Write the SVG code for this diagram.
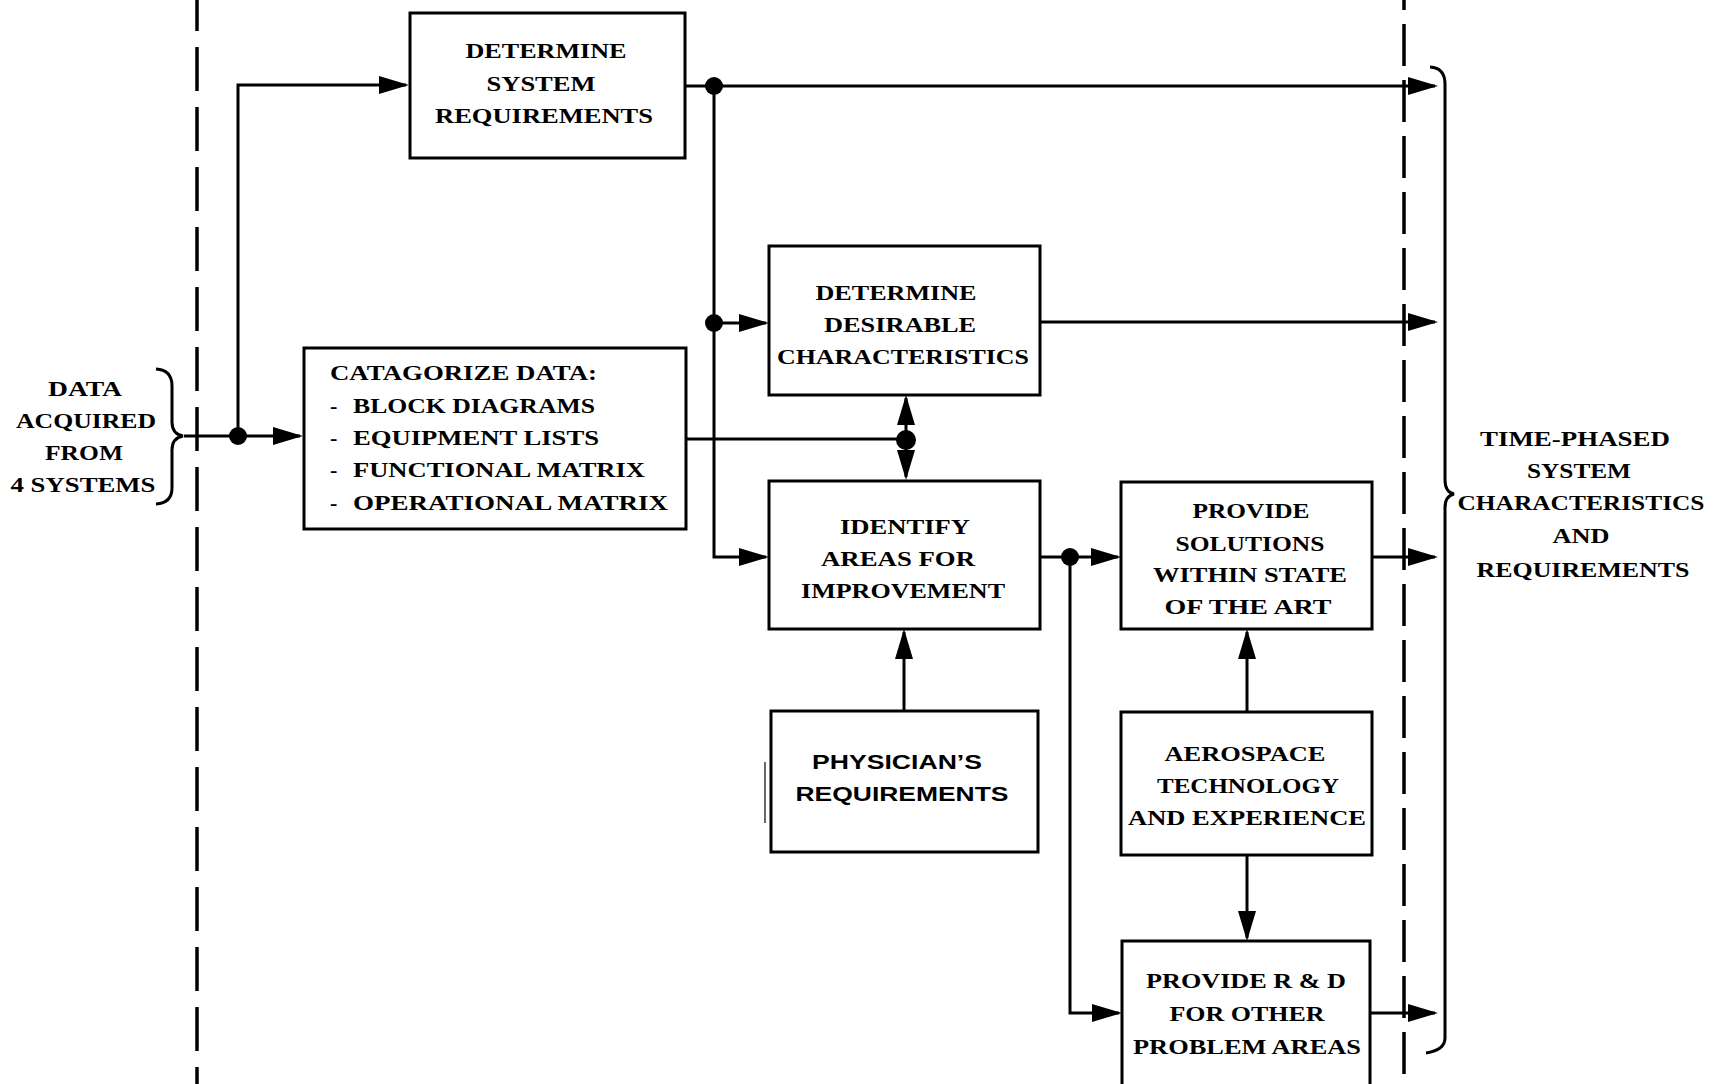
<svg xmlns="http://www.w3.org/2000/svg" width="1714" height="1084" viewBox="0 0 1714 1084">
<style>
.box{fill:#fff;stroke:#000;stroke-width:3}
.c{fill:none;stroke:#000;stroke-width:3}
.dash{fill:none;stroke:#000;stroke-width:3.5}
.dot{fill:#000}
.t{font-family:"Liberation Serif","Times New Roman",serif;font-weight:bold;font-size:22px;fill:#000;text-anchor:middle}
.tl{font-family:"Liberation Serif","Times New Roman",serif;font-weight:bold;font-size:22px;fill:#000}
.s{font-family:"Liberation Sans",Arial,sans-serif;font-weight:bold;font-size:20px;fill:#000;text-anchor:middle}
</style>
<defs>
<marker id="ah" markerUnits="userSpaceOnUse" markerWidth="30" markerHeight="18" viewBox="0 0 30 18" refX="27" refY="9" orient="auto"><path d="M0,0 L30,9 L0,18 Z" fill="#000"/></marker>
</defs>
<rect width="1714" height="1084" fill="#fff"/>

<g id="boundaries">
<path class="dash" d="M197,0 V1084" stroke-dasharray="44 16" stroke-dashoffset="13"/>
<path class="dash" d="M1404,0 V1084" stroke-dasharray="42 14" stroke-dashoffset="32"/>
<path class="c" d="M156,369 Q172,370 172,386 V422 Q172,434 183,436 Q172,438 172,450 V488 Q172,503 156,504"/>
<path class="c" d="M1430,67 Q1445,68 1445,84 V480 Q1445,492 1454,494 Q1445,496 1445,508 V1038 Q1445,1050 1426,1053"/>
<line x1="765" y1="762" x2="765" y2="823" stroke="#000" stroke-width="1.2"/>
</g>

<g id="connectors">
<path class="c" d="M184,436 H300" marker-end="url(#ah)"/>
<path class="c" d="M238,436 V85 H406" marker-end="url(#ah)"/>
<path class="c" d="M685,86 H1435" marker-end="url(#ah)"/>
<path class="c" d="M714,86 V557 H766" marker-end="url(#ah)"/>
<path class="c" d="M714,323 H766" marker-end="url(#ah)"/>
<path class="c" d="M1040,322 H1435" marker-end="url(#ah)"/>
<path class="c" d="M686,439 H906"/>
<path class="c" d="M906,440 V398" marker-end="url(#ah)"/>
<path class="c" d="M906,440 V477" marker-end="url(#ah)"/>
<path class="c" d="M1040,557 H1118" marker-end="url(#ah)"/>
<path class="c" d="M1070,557 V1013 H1119" marker-end="url(#ah)"/>
<path class="c" d="M1372,557 H1435" marker-end="url(#ah)"/>
<path class="c" d="M1247,712 V632" marker-end="url(#ah)"/>
<path class="c" d="M1247,855 V938" marker-end="url(#ah)"/>
<path class="c" d="M1370,1013 H1435" marker-end="url(#ah)"/>
<path class="c" d="M904,710 V632" marker-end="url(#ah)"/>
<circle class="dot" cx="238" cy="436" r="9"/>
<circle class="dot" cx="714" cy="86" r="9"/>
<circle class="dot" cx="714" cy="323" r="9"/>
<circle class="dot" cx="906" cy="440" r="10"/>
<circle class="dot" cx="1070" cy="557" r="9"/>
</g>

<g id="input">
<text class="t" font-size="21" x="85" y="396" textLength="74" lengthAdjust="spacingAndGlyphs">DATA</text>
<text class="t" font-size="21" x="86" y="428" textLength="140" lengthAdjust="spacingAndGlyphs">ACQUIRED</text>
<text class="t" font-size="21" x="84" y="460" textLength="78" lengthAdjust="spacingAndGlyphs">FROM</text>
<text class="t" font-size="21" x="83" y="492" textLength="145" lengthAdjust="spacingAndGlyphs">4 SYSTEMS</text>
</g>

<g id="sysreq">
<rect class="box" x="410" y="13" width="275" height="145"/>
<text class="t" x="546" y="58" textLength="161" lengthAdjust="spacingAndGlyphs">DETERMINE</text>
<text class="t" x="541" y="91" textLength="109" lengthAdjust="spacingAndGlyphs">SYSTEM</text>
<text class="t" x="544" y="123" textLength="218" lengthAdjust="spacingAndGlyphs">REQUIREMENTS</text>
</g>

<g id="categorize">
<rect class="box" x="304" y="348" width="382" height="181"/>
<text class="tl" x="330" y="380" textLength="267" lengthAdjust="spacingAndGlyphs">CATAGORIZE DATA:</text>
<text class="tl" y="413"><tspan x="330">-</tspan><tspan x="353" textLength="242" lengthAdjust="spacingAndGlyphs">BLOCK DIAGRAMS</tspan></text>
<text class="tl" y="445"><tspan x="330">-</tspan><tspan x="353" textLength="246" lengthAdjust="spacingAndGlyphs">EQUIPMENT LISTS</tspan></text>
<text class="tl" y="477"><tspan x="330">-</tspan><tspan x="353" textLength="292" lengthAdjust="spacingAndGlyphs">FUNCTIONAL MATRIX</tspan></text>
<text class="tl" y="510"><tspan x="330">-</tspan><tspan x="353" textLength="315" lengthAdjust="spacingAndGlyphs">OPERATIONAL MATRIX</tspan></text>
</g>

<g id="desirable">
<rect class="box" x="769" y="246" width="271" height="149"/>
<text class="t" x="896" y="300" textLength="161" lengthAdjust="spacingAndGlyphs">DETERMINE</text>
<text class="t" x="900" y="332" textLength="152" lengthAdjust="spacingAndGlyphs">DESIRABLE</text>
<text class="t" x="903" y="364" textLength="252" lengthAdjust="spacingAndGlyphs">CHARACTERISTICS</text>
</g>

<g id="identify">
<rect class="box" x="769" y="481" width="271" height="148"/>
<text class="t" x="905" y="534" textLength="130" lengthAdjust="spacingAndGlyphs">IDENTIFY</text>
<text class="t" x="898" y="566" textLength="154" lengthAdjust="spacingAndGlyphs">AREAS FOR</text>
<text class="t" x="903" y="598" textLength="204" lengthAdjust="spacingAndGlyphs">IMPROVEMENT</text>
</g>

<g id="physician">
<rect class="box" x="771" y="711" width="267" height="141"/>
<text class="s" x="897" y="769" textLength="170" lengthAdjust="spacingAndGlyphs">PHYSICIAN’S</text>
<text class="s" x="902" y="801" textLength="213" lengthAdjust="spacingAndGlyphs">REQUIREMENTS</text>
</g>

<g id="solutions">
<rect class="box" x="1121" y="482" width="251" height="147"/>
<text class="t" x="1251" y="518" textLength="117" lengthAdjust="spacingAndGlyphs">PROVIDE</text>
<text class="t" x="1250" y="551" textLength="149" lengthAdjust="spacingAndGlyphs">SOLUTIONS</text>
<text class="t" x="1250" y="582" textLength="194" lengthAdjust="spacingAndGlyphs">WITHIN STATE</text>
<text class="t" x="1248" y="614" textLength="167" lengthAdjust="spacingAndGlyphs">OF THE ART</text>
</g>

<g id="aerospace">
<rect class="box" x="1121" y="712" width="251" height="143"/>
<text class="t" x="1245" y="761" textLength="161" lengthAdjust="spacingAndGlyphs">AEROSPACE</text>
<text class="t" x="1248" y="793" textLength="182" lengthAdjust="spacingAndGlyphs">TECHNOLOGY</text>
<text class="t" x="1247" y="825" textLength="238" lengthAdjust="spacingAndGlyphs">AND EXPERIENCE</text>
</g>

<g id="rnd">
<rect class="box" x="1122" y="941" width="248" height="160"/>
<text class="t" x="1246" y="988" textLength="200" lengthAdjust="spacingAndGlyphs">PROVIDE R &amp; D</text>
<text class="t" x="1247" y="1021" textLength="155" lengthAdjust="spacingAndGlyphs">FOR OTHER</text>
<text class="t" x="1247" y="1054" textLength="228" lengthAdjust="spacingAndGlyphs">PROBLEM AREAS</text>
</g>

<g id="output">
<text class="t" x="1575" y="446" textLength="190" lengthAdjust="spacingAndGlyphs">TIME-PHASED</text>
<text class="t" x="1579" y="478" textLength="104" lengthAdjust="spacingAndGlyphs">SYSTEM</text>
<text class="t" x="1581" y="510" textLength="247" lengthAdjust="spacingAndGlyphs">CHARACTERISTICS</text>
<text class="t" x="1581" y="543" textLength="57" lengthAdjust="spacingAndGlyphs">AND</text>
<text class="t" x="1583" y="577" textLength="213" lengthAdjust="spacingAndGlyphs">REQUIREMENTS</text>
</g>
</svg>
